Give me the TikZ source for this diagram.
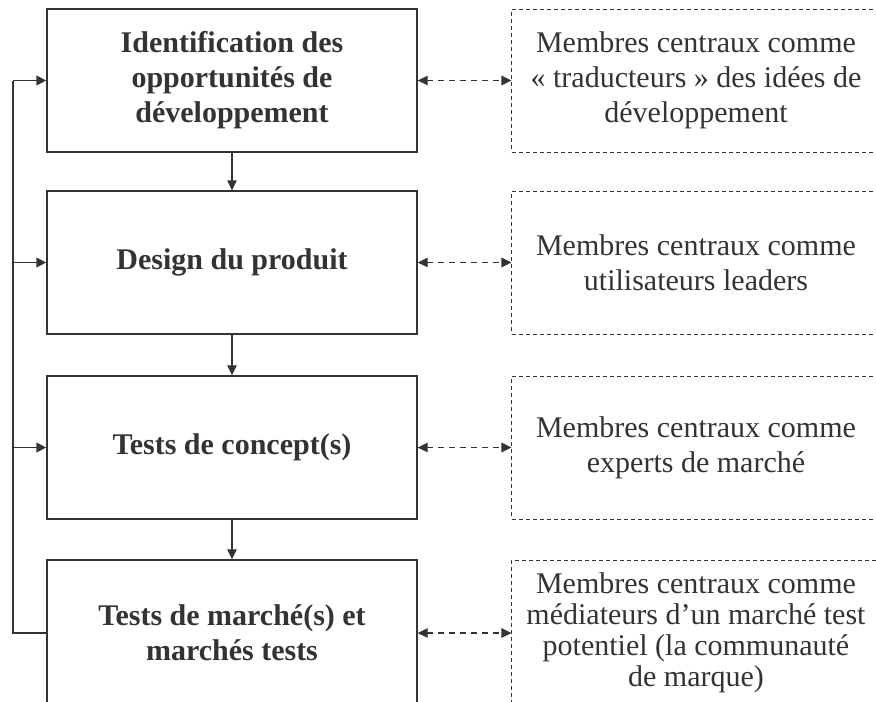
\documentclass[tikz,border=0pt]{standalone}
\usepackage{fontspec}
\setmainfont{Liberation Serif}
\usetikzlibrary{arrows.meta}
\definecolor{ink}{HTML}{333333}
\begin{document}
\begin{tikzpicture}[x=0.4pt, y=-0.4pt,
  phase/.style={rectangle, draw=ink, line width=0.55pt, minimum width=148pt, minimum height=57.2pt, align=center, text=ink, font=\fontsize{12pt}{14pt}\selectfont\bfseries},
  role/.style={rectangle, draw=ink, line width=0.4pt, dash pattern=on 1.6pt off 1.2pt, minimum width=147.2pt, minimum height=57.2pt, align=center, text=ink, font=\fontsize{12pt}{14pt}\selectfont},
  flow/.style={draw=ink, line width=0.55pt, -{Triangle[length=4pt,width=3.8pt]}},
  link/.style={draw=ink, line width=0.5pt, dash pattern=on 2.4pt off 2pt, {Triangle[length=4pt,width=3.8pt]}-{Triangle[length=4pt,width=3.8pt]}},
  back/.style={draw=ink, line width=0.75pt}]

\clip (0,0) rectangle (876,702);

\node [phase] (b1) at (232,80.5) {Identification des\\opportunités de\\développement};
\node [phase] (b2) at (232,262.5) {Design du produit};
\node [phase] (b3) at (232,447.5) {Tests de concept(s)};
\node [phase, minimum height=58.4pt] (b4) at (232,633) {Tests de marché(s) et\\marchés tests};

\node [role] (r1) at (696,80.5) {Membres centraux comme\\« traducteurs » des idées de\\développement};
\node [role] (r2) at (696,262.5) {Membres centraux comme\\utilisateurs leaders};
\node [role] (r3) at (696,447.5) {Membres centraux comme\\experts de marché};
\node [role, minimum height=58.4pt, font=\fontsize{12pt}{12.4pt}\selectfont] (r4) at (696,633) {Membres centraux comme\\médiateurs d’un marché test\\potentiel (la communauté\\de marque)};

% sequence of phases
\draw [flow] (b1) -- (b2);
\draw [flow] (b2) -- (b3);
\draw [flow] (b3) -- (b4);

% roles of the central members
\draw [link] (b1) -- (r1);
\draw [link] (b2) -- (r2);
\draw [link] (b3) -- (r3);
\draw [link] (b4) -- (r4);

% feedback loop
\coordinate (l4) at (13,633);
\draw [back] (b4.west) -- (l4) -- (l4 |- b1.west);
\draw [flow, line width=0.75pt] (l4 |- b1.west) -- (b1.west);
\draw [flow, line width=0.75pt] (l4 |- b2.west) -- (b2.west);
\draw [flow, line width=0.75pt] (l4 |- b3.west) -- (b3.west);
\end{tikzpicture}
\end{document}
